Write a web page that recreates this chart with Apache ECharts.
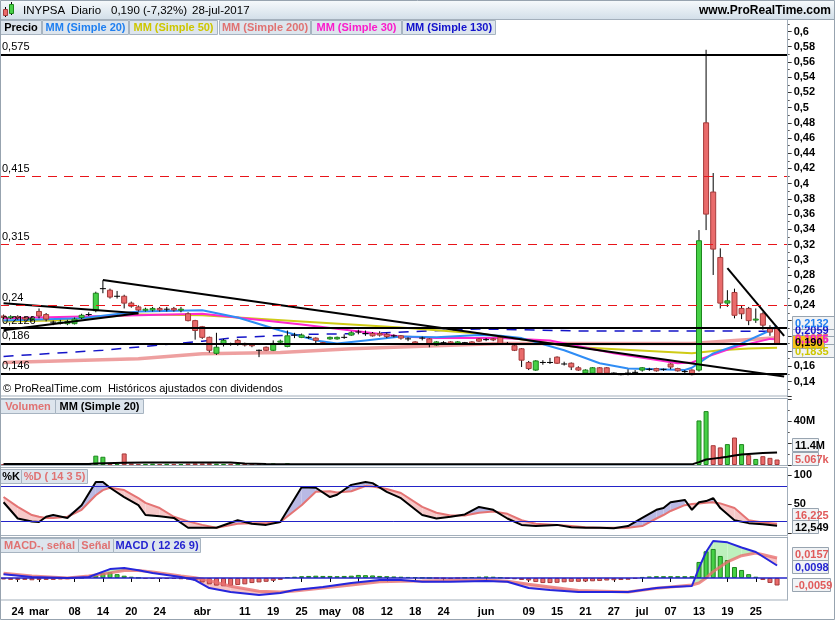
<!DOCTYPE html>
<html>
<head>
<meta charset="utf-8">
<script src="https://cdn.jsdelivr.net/npm/echarts@6/dist/echarts.min.js"></script>
<style>
html, body { margin: 0; padding: 0; background: #fff; }
#chart { width: 835px; height: 620px; }
</style>
</head>
<body>
<div id="chart"></div>
<script>
// ---- values ----
var N = 111; // 110 sessions + one empty slot at the right edge

var tickIdx  = [2, 5, 10, 14, 18, 22, 28, 34, 38, 42, 46, 50, 54, 58, 62, 68, 74, 78, 82, 86, 90, 94, 98, 102, 106];
var tickText = ['24', 'mar', '08', '14', '20', '24', 'abr', '11', '19', '25', 'may', '08', '12', '18', '24', 'jun', '09', '15', '21', '27', 'jul', '07', '13', '19', '25'];

// [open, close, low, high]
var candles = [
  [0.226,0.224,0.222,0.228],[0.224,0.225,0.222,0.227],[0.225,0.224,0.221,0.227],[0.224,0.222,0.219,0.226],[0.222,0.223,0.219,0.226],
  [0.232,0.226,0.223,0.236],[0.228,0.222,0.219,0.230],[0.218,0.218,0.214,0.220],[0.217,0.218,0.215,0.221],[0.216,0.219,0.214,0.221],
  [0.216,0.222,0.215,0.224],[0.224,0.227,0.222,0.229],[0.228,0.228,0.226,0.231],[0.233,0.256,0.231,0.258],[0.262,0.262,0.256,0.273],
  [0.260,0.251,0.249,0.262],[0.252,0.252,0.249,0.259],[0.252,0.243,0.236,0.254],[0.243,0.239,0.237,0.245],[0.238,0.234,0.232,0.240],
  [0.234,0.235,0.232,0.237],[0.234,0.236,0.232,0.238],[0.236,0.234,0.232,0.238],[0.235,0.235,0.232,0.238],[0.236,0.234,0.232,0.238],
  [0.234,0.235,0.231,0.238],[0.229,0.220,0.219,0.231],[0.220,0.207,0.195,0.221],[0.212,0.198,0.196,0.213],[0.198,0.181,0.178,0.199],
  [0.177,0.185,0.175,0.204],[0.189,0.194,0.186,0.196],[0.189,0.189,0.187,0.191],[0.194,0.189,0.187,0.196],[0.190,0.188,0.186,0.191],
  [0.189,0.187,0.185,0.190],[0.181,0.181,0.172,0.182],[0.185,0.181,0.180,0.186],[0.181,0.190,0.180,0.194],[0.192,0.193,0.189,0.195],
  [0.186,0.200,0.185,0.207],[0.201,0.201,0.197,0.204],[0.198,0.201,0.197,0.203],[0.198,0.198,0.196,0.200],[0.197,0.194,0.190,0.198],
  [0.191,0.189,0.188,0.192],[0.196,0.198,0.195,0.199],[0.196,0.198,0.195,0.199],[0.198,0.198,0.196,0.202],[0.201,0.204,0.200,0.206],
  [0.205,0.205,0.202,0.208],[0.203,0.203,0.200,0.207],[0.203,0.200,0.199,0.205],[0.203,0.201,0.199,0.206],[0.202,0.199,0.197,0.204],
  [0.200,0.200,0.198,0.202],[0.200,0.197,0.195,0.201],[0.196,0.196,0.193,0.198],[0.192,0.189,0.188,0.193],[0.197,0.197,0.194,0.199],
  [0.196,0.190,0.185,0.197],[0.188,0.192,0.187,0.193],[0.191,0.191,0.189,0.193],[0.192,0.189,0.188,0.193],[0.189,0.192,0.188,0.193],
  [0.191,0.191,0.189,0.192],[0.192,0.189,0.188,0.193],[0.196,0.193,0.192,0.197],[0.195,0.195,0.193,0.197],[0.196,0.195,0.193,0.197],
  [0.198,0.190,0.189,0.199],[0.190,0.190,0.188,0.192],[0.187,0.181,0.180,0.188],[0.183,0.168,0.159,0.184],[0.165,0.157,0.155,0.167],
  [0.155,0.167,0.154,0.168],[0.165,0.165,0.162,0.168],[0.165,0.165,0.163,0.171],[0.172,0.164,0.163,0.173],[0.163,0.163,0.161,0.166],
  [0.164,0.159,0.155,0.165],[0.158,0.155,0.154,0.160],[0.151,0.155,0.150,0.156],[0.151,0.158,0.150,0.159],[0.158,0.151,0.150,0.159],
  [0.158,0.151,0.150,0.159],[0.151,0.151,0.150,0.152],[0.149,0.149,0.148,0.150],[0.151,0.151,0.148,0.156],[0.152,0.152,0.150,0.155],
  [0.155,0.158,0.153,0.159],[0.156,0.156,0.154,0.158],[0.157,0.154,0.153,0.158],[0.156,0.156,0.154,0.157],[0.163,0.159,0.156,0.164],
  [0.157,0.154,0.153,0.158],[0.153,0.153,0.150,0.155],[0.155,0.149,0.148,0.156],[0.155,0.325,0.153,0.339],[0.480,0.360,0.339,0.576],
  [0.389,0.314,0.280,0.414],[0.303,0.243,0.236,0.315],[0.243,0.246,0.238,0.260],[0.257,0.227,0.223,0.262],[0.236,0.229,0.222,0.240],
  [0.236,0.220,0.214,0.238],[0.221,0.222,0.217,0.236],[0.229,0.214,0.208,0.231],[0.211,0.205,0.200,0.214],[0.210,0.190,0.188,0.212]
];

// moving averages, [session, value]
var ma20  = [[0,0.220],[11,0.223],[19,0.232],[28,0.2335],[33,0.224],[39,0.207],[44,0.194],[47,0.190],[51,0.194],[56,0.199],[61,0.198],[67,0.201],[70,0.200],[73,0.197],[79,0.181],[84,0.164],[88,0.157],[96,0.155],[97,0.158],[100,0.177],[104,0.190],[108,0.207],[109,0.2132]];
var ma30  = [[0,0.223],[19,0.227],[28,0.229],[42,0.215],[49,0.207],[56,0.199],[61,0.197],[70,0.197],[77,0.194],[86,0.177],[95,0.164],[97,0.165],[99,0.172],[103,0.185],[108,0.196],[109,0.1955]];
var ma50  = [[0,0.219],[7,0.220],[19,0.228],[28,0.227],[42,0.219],[56,0.211],[67,0.203],[81,0.185],[97,0.177],[101,0.181],[105,0.1835],[109,0.1845]];
var ma200 = [[0,0.165],[19,0.170],[28,0.1765],[39,0.178],[49,0.183],[70,0.190],[97,0.190],[103,0.194],[109,0.1975]];
var ma130 = [[0,0.173],[14,0.181],[28,0.193],[33,0.198],[43,0.202],[51,0.203],[67,0.209],[81,0.2065],[97,0.2065],[109,0.2059]];

// drawn lines
var levels      = [0.575, 0.415, 0.315, 0.24, 0.2126, 0.186, 0.146];
var levelLabels = ['0,575', '0,415', '0,315', '0,24', '0,2126', '0,186', '0,146'];
var levelDashed = [false, true, true, true, false, false, false];
var trend1 = [[0,0.2428],[19,0.2296]];
var trend2 = [[0,0.2072],[19,0.2296]];
var trend3 = [[14,0.2735],[110,0.1465]];
var trend4 = [[102,0.289],[110,0.200]];

// volume in millions
var volume = [
  0.6,0.4,0.5,0.4,0.5,1.6,0.6,0.4,0.5,0.6,
  0.8,0.7,0.6,8.5,7.5,1.2,1.0,10.5,1.4,0.9,
  1.0,1.2,0.9,1.1,1.0,0.8,1.3,1.5,1.4,1.6,
  1.2,1.0,1.1,0.9,0.6,0.5,0.7,0.5,1.5,0.6,
  1.6,0.7,0.6,0.5,0.6,0.5,0.6,0.5,0.4,0.6,
  0.5,0.6,0.5,0.5,0.4,0.5,0.6,0.5,0.5,0.4,
  0.6,0.5,0.4,0.5,0.4,0.5,0.6,0.5,0.4,0.5,
  0.6,0.5,0.8,1.0,0.9,0.7,0.5,0.6,0.7,0.5,
  0.6,0.5,0.4,0.5,0.5,0.4,0.3,0.4,0.3,0.4,
  0.5,0.4,0.5,0.4,0.6,0.5,0.4,0.6,
  40.5,49,18,16,19,25,19,9,5.5,8,6.5,5
];
var volMa = [[0,1.0],[12,1.0],[13,1.4],[17,2.0],[20,2.2],[32,2.3],[34,1.3],[37,0.8],[60,0.7],[97,0.6],[98,2.6],[99,5.0],[100,5.8],[101,6.6],[102,7.5],[103,8.7],[104,9.6],[105,10.1],[106,10.5],[107,10.9],[108,11.2],[109,11.4]];

// stochastic %K / %D
var stoIdx = [0,2,4,5,6,7,9,11,13,14,15,17,19,20,22,24,26,28,30,33,35,37,39,42,44,46,47,49,51,52,54,56,59,61,63,65,67,69,71,73,75,78,80,82,84,86,88,90,92,93,94,96,97,98,99,100,101,103,105,107,109];
var stoK = [53,25,20,19,28,31,26,48,88,88,78,62,48,31,29,26,9,9,9,22,16,14,19,79,78,62,66,83,88,86,71,60,31,25,28,32,45,40,25,14,12,14,10,9,9,8,12,26,40,43,53,57,40,53,55,60,43,22,17,15,12.5];
var stoD = [62,45,31,28,26,26,28,40,65,74,78,74,60,52,43,28,20,14,9,16,17,17,19,48,71,72,70,72,81,80,76,69,45,35,30,30,35,37,33,22,16,14,12,10,9,9,9,12,25,31,38,48,50,51,52,53,51,43,22,18,16];

// MACD ( 12 26 9)
var macIdx = [0,4,9,12,15,17,19,21,25,27,29,32,36,39,41,45,49,53,56,59,63,68,71,74,77,81,88,92,94,97,98,99,100,102,104,106,109];
var macdLine = [0.003,0.0008,0,0.0008,0.007,0.0078,0.006,0.0039,0.0008,-0.0016,-0.0079,-0.011,-0.0133,-0.0118,-0.0094,-0.007,-0.0039,-0.0016,-0.0016,-0.003,-0.003,-0.0024,-0.003,-0.0079,-0.0094,-0.011,-0.011,-0.0079,-0.007,-0.0063,0.008,0.0204,0.029,0.028,0.024,0.0204,0.0098];
var signalLine = [0.0038,0.0015,0,0.0015,0.004,0.0058,0.0058,0.0048,0.0015,0.0002,-0.002,-0.0065,-0.0105,-0.011,-0.0102,-0.0078,-0.0055,-0.003,-0.0025,-0.0024,-0.002,-0.0016,-0.0025,-0.005,-0.007,-0.0098,-0.011,-0.008,-0.007,-0.0055,-0.004,0.0,0.005,0.0126,0.0175,0.0196,0.0157];
var hist = [
  -0.0012,-0.0015,-0.0015,-0.0015,-0.0018,-0.0015,-0.0015,-0.0015,-0.0012,-0.001,
  -0.0005,0.0002,0.0008,0.002,0.0037,0.0045,0.003,0.0018,0.001,0.0002,
  -0.0008,-0.0008,-0.0008,-0.0008,-0.0008,-0.001,-0.0012,-0.002,-0.0035,-0.005,
  -0.006,-0.0065,-0.0062,-0.0055,-0.005,-0.004,-0.0035,-0.003,-0.0022,-0.0015,
  0.0006,0.001,0.0014,0.0016,0.0018,0.0016,0.0016,0.0014,0.0016,0.0018,
  0.0024,0.0022,0.002,0.0016,0.0014,0.0012,0.001,0.0008,0.0006,0.0002,
  0.0,-0.0002,-0.0004,-0.0006,-0.0002,0.0002,0.0006,0.001,0.0012,0.001,
  0.0004,-0.0004,-0.001,-0.0016,-0.002,-0.0032,-0.004,-0.004,-0.0038,-0.0034,
  -0.003,-0.003,-0.0028,-0.0026,-0.0024,-0.002,-0.0018,-0.0016,-0.0014,-0.0006,
  0.0008,0.0012,0.0014,0.0014,0.0014,0.0014,0.0014,0.0014,
  0.0126,0.021,0.0228,0.0173,0.0141,0.0086,0.0063,0.003,0.001,-0.0016,-0.0039,-0.0059
];

// ---- styling ----
var FONT = "'Liberation Sans', Arial, sans-serif";
var UP = '#46d046', UP_EDGE = '#1d861d', DN = '#e96b6b', DN_EDGE = '#a53b3b';
var FRAME = '#a3afbb';

var cats = [];
for (var i = 0; i < N; i++) cats.push(String(i));
var tickMap = {};
tickIdx.forEach(function (k, j) { tickMap[k] = tickText[j]; });

function pairs(idx, vals) { return idx.map(function (k, j) { return [k, vals[j]]; }); }

function renderCandle(params, api) {
  var x = api.value(0), o = api.value(1), c = api.value(2), l = api.value(3), h = api.value(4);
  var pH = api.coord([x, h]), pL = api.coord([x, l]);
  var pO = api.coord([x, o]), pC = api.coord([x, c]);
  var w = 5;
  var kids = [{ type: 'line', shape: { x1: pH[0], y1: pH[1], x2: pL[0], y2: pL[1] }, style: { stroke: '#000', lineWidth: 1 } }];
  if (o === c) {
    kids.push({ type: 'line', shape: { x1: pO[0] - 3, y1: pO[1], x2: pO[0] + 3, y2: pO[1] }, style: { stroke: '#000', lineWidth: 1 } });
  } else {
    var up = c > o;
    var top = Math.min(pO[1], pC[1]), bot = Math.max(pO[1], pC[1]);
    kids.push({ type: 'rect', shape: { x: pO[0] - w / 2, y: top, width: w, height: Math.max(bot - top, 1) },
      style: { fill: up ? UP : DN, stroke: up ? UP_EDGE : DN_EDGE, lineWidth: 1 } });
  }
  return { type: 'group', children: kids };
}

function bandData(idx, a, b) {
  var out = [];
  for (var j = 0; j < idx.length - 1; j++) out.push([idx[j], a[j], b[j], idx[j + 1], a[j + 1], b[j + 1]]);
  return out;
}
function bandRender(colUp, colDown) {
  return function (params, api) {
    var x0 = api.value(0), a0 = api.value(1), b0 = api.value(2);
    var x1 = api.value(3), a1 = api.value(4), b1 = api.value(5);
    var d0 = a0 - b0, d1 = a1 - b1;
    var kids = [];
    function poly(pts, col) {
      kids.push({ type: 'polygon', shape: { points: pts.map(function (p) { return api.coord(p); }) }, style: { fill: col } });
    }
    if (d0 * d1 >= 0) {
      poly([[x0, a0], [x1, a1], [x1, b1], [x0, b0]], (d0 + d1) >= 0 ? colUp : colDown);
    } else {
      var t = d0 / (d0 - d1);
      var xm = x0 + t * (x1 - x0), ym = a0 + t * (a1 - a0);
      poly([[x0, a0], [xm, ym], [x0, b0]], d0 > 0 ? colUp : colDown);
      poly([[xm, ym], [x1, a1], [x1, b1]], d1 > 0 ? colUp : colDown);
    }
    return { type: 'group', children: kids };
  };
}

function lineSeries(data, color, width, g, z, extra) {
  var s = { type: 'line', xAxisIndex: g, yAxisIndex: g, data: data, symbol: 'none', silent: true, z: z,
    lineStyle: { color: color, width: width } };
  if (extra) for (var k in extra) s[k] = extra[k];
  return s;
}

var candleData = candles.map(function (r, k) { return [k, r[0], r[1], r[2], r[3]]; });
var volData = volume.map(function (v, k) {
  var up = k === 0 ? candles[0][1] >= candles[0][0] : candles[k][1] >= candles[k - 1][1];
  return { value: v, itemStyle: { color: up ? UP : DN, borderColor: up ? UP_EDGE : DN_EDGE, borderWidth: 1 } };
});
var histData = hist.map(function (v) {
  return { value: v, itemStyle: { color: v >= 0 ? UP : DN, borderColor: v >= 0 ? UP_EDGE : DN_EDGE, borderWidth: 1 } };
});

var markData = levels.map(function (v, j) {
  return {
    yAxis: v,
    lineStyle: levelDashed[j] ? { color: '#e8141a', width: 1.2, type: [9, 7] } : { color: '#000', width: 2, type: 'solid' },
    label: { show: true, position: 'insideStartTop', formatter: levelLabels[j], color: '#000', fontSize: 11, fontFamily: FONT, distance: 2 }
  };
});

var gridL = 0, gridW = 787.7;
function xAx(g, show) {
  return {
    type: 'category', gridIndex: g, data: cats, boundaryGap: true, show: show,
    axisLine: { show: false },
    axisTick: { show: show, interval: function (k) { return tickMap[k] !== undefined; }, alignWithLabel: true, length: 4, lineStyle: { color: '#000' } },
    axisLabel: { show: show, interval: function (k) { return tickMap[k] !== undefined; }, formatter: function (v, k) { return tickMap[k] || ''; },
      color: '#000', fontWeight: 'bold', fontSize: 11, fontFamily: FONT, margin: 6, hideOverlap: false },
    splitLine: { show: false }
  };
}
function yAx(g, opt) {
  var a = {
    type: 'value', gridIndex: g, position: 'right', scale: false,
    axisLine: { show: true, lineStyle: { color: '#8c98a4' } },
    axisTick: { show: true, length: 4, lineStyle: { color: '#333' } },
    minorTick: { show: true, splitNumber: 2, length: 2, lineStyle: { color: '#555' } },
    splitLine: { show: false },
    axisLabel: { color: '#000', fontWeight: 'bold', fontSize: 11, fontFamily: FONT, margin: 6 }
  };
  for (var k in opt) {
    if (k === 'axisLabel') { for (var m in opt[k]) a.axisLabel[m] = opt[k][m]; }
    else a[k] = opt[k];
  }
  return a;
}

var chart = echarts.init(document.getElementById('chart'), null, { renderer: 'canvas' });

var option = {
  animation: false,
  backgroundColor: '#fff',
  grid: [
    { left: gridL, width: gridW, top: 16.3, height: 380.4 },
    { left: gridL, width: gridW, top: 399, height: 66 },
    { left: gridL, width: gridW, top: 475, height: 58 },
    { left: gridL, width: gridW, top: 537, height: 63 }
  ],
  xAxis: [xAx(0, false), xAx(1, false), xAx(2, false), xAx(3, true)],
  yAxis: [
    yAx(0, { min: 0.12, max: 0.62, interval: 0.02, axisLabel: { formatter: function (v) {
      if (v < 0.13 || v > 0.61) return '';
      return (+v.toFixed(2)).toString().replace('.', ',');
    } } }),
    yAx(1, { min: 0, max: 60, interval: 20, axisLabel: { formatter: function (v) { return (v === 20 || v === 40) ? v + 'M' : ''; } } }),
    yAx(2, { min: 0, max: 100, interval: 50, minorTick: { show: false }, axisLabel: { formatter: function (v) { return v === 0 ? '' : String(v); } } }),
    yAx(3, { min: -0.0173, max: 0.0322, axisTick: { show: false }, minorTick: { show: false }, axisLabel: { show: false } })
  ],
  series: [
    // price panel
    lineSeries(ma200, 'rgba(232,128,128,0.75)', 3.5, 0, 2),
    lineSeries(ma130, '#1414c8', 1.5, 0, 2, { lineStyle: { color: '#1414c8', width: 1.5, type: [10, 8] } }),
    lineSeries(ma50, '#cfcb16', 2, 0, 2),
    lineSeries(ma30, '#ff28cc', 2, 0, 2),
    lineSeries(ma20, '#2f8df5', 2, 0, 2),
    { type: 'custom', xAxisIndex: 0, yAxisIndex: 0, data: candleData, renderItem: renderCandle, encode: { x: 0, y: [1, 2, 3, 4] }, silent: true, z: 3 },
    lineSeries(trend1, '#000', 2, 0, 4, { markLine: { silent: true, symbol: ['none', 'none'], data: markData } }),
    lineSeries(trend2, '#000', 2, 0, 4),
    lineSeries(trend3, '#000', 2, 0, 4),
    lineSeries(trend4, '#000', 2, 0, 4),
    // volume
    { type: 'bar', xAxisIndex: 1, yAxisIndex: 1, data: volData, barWidth: 5, silent: true, z: 2 },
    lineSeries(volMa, '#000', 2, 1, 3),
    // stochastic
    { type: 'custom', xAxisIndex: 2, yAxisIndex: 2, data: bandData(stoIdx, stoK, stoD), renderItem: bandRender('#b9b9e4', '#f6c9c9'),
      encode: { x: [0, 3], y: [1, 2, 4, 5] }, silent: true, z: 1 },
    lineSeries(pairs(stoIdx, stoD), '#e47474', 2, 2, 3, {
      markLine: { silent: true, symbol: ['none', 'none'], label: { show: false },
        lineStyle: { color: '#2323c8', width: 1, type: 'solid' }, data: [{ yAxis: 80 }, { yAxis: 20 }] } }),
    lineSeries(pairs(stoIdx, stoK), '#000', 2, 2, 4),
    // MACD
    { type: 'custom', xAxisIndex: 3, yAxisIndex: 3, data: bandData(macIdx, macdLine, signalLine), renderItem: bandRender('#bdf0bd', '#f6c3c3'),
      encode: { x: [0, 3], y: [1, 2, 4, 5] }, silent: true, z: 1 },
    { type: 'bar', xAxisIndex: 3, yAxisIndex: 3, data: histData, barWidth: 5, silent: true, z: 2,
      markLine: { silent: true, symbol: ['none', 'none'], label: { show: false },
        lineStyle: { color: '#2323c8', width: 1.5, type: 'solid' }, data: [{ yAxis: 0 }] } },
    lineSeries(pairs(macIdx, signalLine), 'rgba(232,112,112,0.8)', 3, 3, 3),
    lineSeries(pairs(macIdx, macdLine), '#2626dc', 2, 3, 4)
  ]
};
chart.setOption(option);

// ---- frames, headers, legends and value boxes ----
function rect(x, y, w, h, fill, stroke, z) {
  return { type: 'rect', z: z || 10, silent: true, shape: { x: x, y: y, width: w, height: h }, style: { fill: fill || 'none', stroke: stroke || 'none', lineWidth: 1 } };
}
function text(t, x, y, color, font, align, z) {
  return { type: 'text', z: z || 11, silent: true, style: { text: t, x: x, y: y, fill: color, font: font, align: align || 'left', verticalAlign: 'middle' } };
}
function legendBox(t, x, y, w, color) {
  return [rect(x + 0.5, y + 0.5, w, 14, '#dde5ed', '#a7b4c1'), text(t, x + w / 2 + 0.5, y + 8, color, 'bold 11px ' + FONT, 'center')];
}
function valueBox(axis, value, t, color, bg, w, dy) {
  var y = chart.convertToPixel({ yAxisIndex: axis }, value) + (dy || 0);
  return [rect(792.5, Math.round(y) - 6.5, w, 13, bg, '#98a4b0', 20), text(t, 795, Math.round(y) + 0.5, color, 'bold 11px ' + FONT, 'left', 21)];
}

var g = [];
// header bar
g.push({ type: 'rect', z: 9, silent: true, shape: { x: 0, y: 0, width: 835, height: 19 },
  style: { fill: new echarts.graphic.LinearGradient(0, 0, 0, 1, [{ offset: 0, color: '#f7fafc' }, { offset: 1, color: '#d3dfe9' }]) } });
g.push(rect(0.5, 0.5, 834, 619, null, '#97a3af', 30));
g.push({ type: 'line', z: 10, silent: true, shape: { x1: 0, y1: 19.5, x2: 835, y2: 19.5 }, style: { stroke: '#97a3af' } });
// candle icon
g.push({ type: 'line', z: 10, silent: true, shape: { x1: 5.5, y1: 7, x2: 5.5, y2: 17 }, style: { stroke: '#000' } });
g.push(rect(3.5, 9.5, 4, 6, '#e96b6b', '#a53b3b', 11));
g.push({ type: 'line', z: 10, silent: true, shape: { x1: 11.5, y1: 2, x2: 11.5, y2: 15 }, style: { stroke: '#000' } });
g.push(rect(9.5, 4.5, 4, 9, '#46d046', '#1d861d', 11));
var hf = '11.5px ' + FONT;
g.push(text('INYPSA', 23, 10.5, '#000', hf));
g.push(text('Diario', 71, 10.5, '#000', hf));
g.push(text('0,190 (-7,32%)', 111, 10.5, '#000', hf));
g.push(text('28-jul-2017', 192, 10.5, '#000', hf));
g.push(text('www.ProRealTime.com', 831, 10.5, '#000', 'bold 12px ' + FONT, 'right'));

// panel frames
g.push(rect(0.5, 19.5, 787, 376.5, null, FRAME));
g.push(rect(0.5, 398.5, 787, 67, null, FRAME));
g.push(rect(0.5, 467.5, 787, 68, null, FRAME));
g.push(rect(0.5, 537.5, 787, 62.5, null, FRAME));

// legends
g = g.concat(legendBox('Precio', 0, 20, 41, '#000'));
g = g.concat(legendBox('MM (Simple 20)', 42, 20, 86, '#1f7ff0'));
g = g.concat(legendBox('MM (Simple 50)', 129, 20, 88, '#cdc600'));
g = g.concat(legendBox('MM (Simple 200)', 219, 20, 91, '#e07272'));
g = g.concat(legendBox('MM (Simple 30)', 311, 20, 90, '#fa1ccb'));
g = g.concat(legendBox('MM (Simple 130)', 402, 20, 93, '#1212cc'));
g = g.concat(legendBox('Volumen', 0, 399, 55, '#e07272'));
g = g.concat(legendBox('MM (Simple 20)', 55, 399, 88, '#000'));
g = g.concat(legendBox('%K', 0, 469, 21, '#000'));
g = g.concat(legendBox('%D ( 14 3 5)', 21, 469, 66, '#e07272'));
g = g.concat(legendBox('MACD-, señal', 0, 538, 78, '#e07272'));
g = g.concat(legendBox('Señal', 78, 538, 35, '#e07272'));
g = g.concat(legendBox('MACD ( 12 26 9)', 113, 538, 87, '#2323d0'));

g.push(text('\u00a9 ProRealTime.com  Hist\u00f3ricos ajustados con dividendos', 3, 389, '#000', '11px ' + FONT));

// value boxes on the right
var last = candles.length - 1;
g = g.concat(valueBox(0, ma200[ma200.length - 1][1], '0,1975', '#e07272', '#f1f3f5', 42));
g = g.concat(valueBox(0, ma30[ma30.length - 1][1], '0,1955', '#fa1ccb', '#f1f3f5', 42));
g = g.concat(valueBox(0, ma50[ma50.length - 1][1], '0,1835', '#cdc600', '#f1f3f5', 42, 3));
g = g.concat(valueBox(0, ma130[ma130.length - 1][1], '0,2059', '#1212cc', '#f1f3f5', 42, -1));
g = g.concat(valueBox(0, ma20[ma20.length - 1][1], '0,2132', '#1f7ff0', '#f1f3f5', 42, -3));
g = g.concat(valueBox(0, candles[last][1], '0,190', '#000', '#f6c21a', 32, -1));
g = g.concat(valueBox(1, volume[last], '5.067k', '#e05a5a', '#f1f3f5', 26, -1));
g = g.concat(valueBox(1, volMa[volMa.length - 1][1], '11.4M', '#000', '#f1f3f5', 26, -7));
g = g.concat(valueBox(2, stoD[stoD.length - 1], '16,225', '#e05a5a', '#f1f3f5', 26, -9));
g = g.concat(valueBox(2, stoK[stoK.length - 1], '12,549', '#000', '#f1f3f5', 26, 1));
g = g.concat(valueBox(3, signalLine[signalLine.length - 1], '0,0157', '#e05a5a', '#f1f3f5', 36, -4));
g = g.concat(valueBox(3, macdLine[macdLine.length - 1], '0,0098', '#2323d0', '#f1f3f5', 36, 1));
g = g.concat(valueBox(3, hist[last], '-0,0059', '#e05a5a', '#f1f3f5', 38, 0));

chart.setOption({ graphic: g });
</script>
</body>
</html>
